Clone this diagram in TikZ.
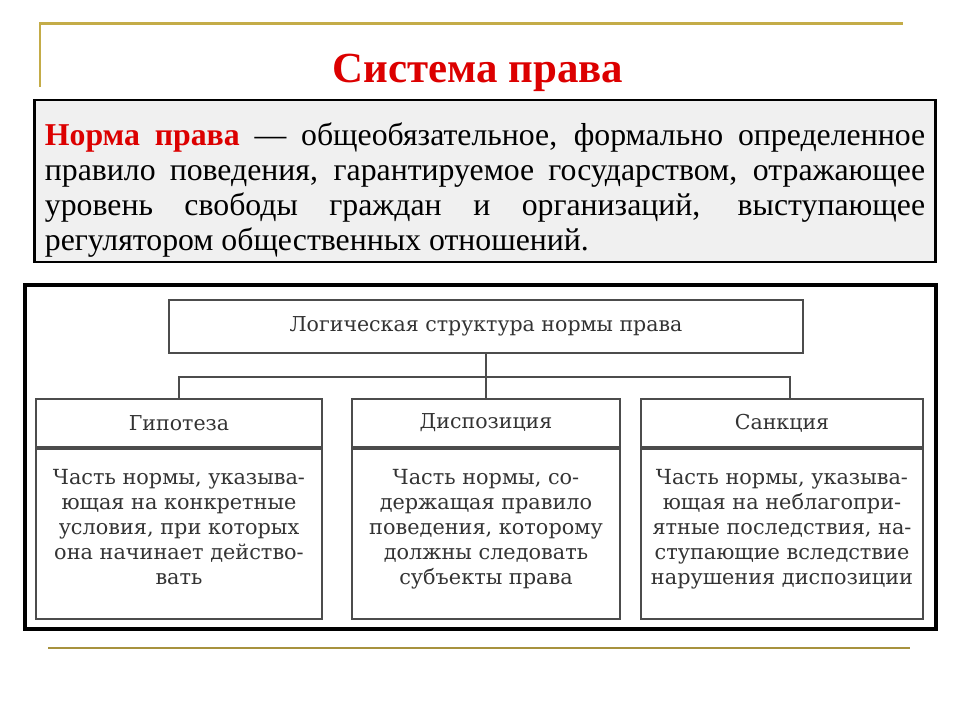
\documentclass[tikz,border=0pt]{standalone}
\usepackage{fontspec}
\setmainfont{Liberation Serif}
\newfontfamily\scanfont{DejaVu Serif}
\usetikzlibrary{calc, positioning}

\definecolor{gold}{RGB}{196,172,72}
\definecolor{titlered}{RGB}{220,0,0}
\definecolor{boxgray}{RGB}{240,240,240}

\begin{document}
\begin{tikzpicture}[x=0.025cm, y=0.025cm,
        defbox/.style={rectangle, draw=black, line width=2pt, fill=boxgray,
                       minimum width=22.5cm, minimum height=4.05cm,
                       text width=22cm, align=justify, inner sep=0pt,
                       font=\fontsize{22.6}{25.1}\selectfont},
        frame/.style={draw=black, line width=2.2pt},
        headbox/.style={rectangle, draw=black!70, line width=1.2pt,
                        minimum height=1.2cm, text=black!80,
                        font=\scanfont\fontsize{14.6}{17.8}\selectfont},
        bodybox/.style={rectangle, draw=black!70, line width=1.2pt,
                        minimum height=4.25cm, align=center, text=black!80,
                        font=\scanfont\fontsize{14.8}{17.8}\selectfont},
        link/.style={draw=black!70, line width=1.2pt},
    ]
    \useasboundingbox (0,0) rectangle (960,720);

    % ====== рамка слайда ======
    \draw[gold, line width=2pt] (40,633) -- (40,696.5) -- (903,696.5);
    \draw[gold!85!black, line width=2pt] (48,72) -- (910,72);

    % ====== заголовок и определение ======
    \node[font=\fontsize{30.5}{36}\selectfont\bfseries, text=titlered] (title) at (478,647) {Система права};
    \node[defbox] (def) at (485,539) {\rule{0pt}{29pt}{\color{titlered}\textbf{Норма права}} — общеобязательное, формально определенное\linebreak
        правило поведения, гарантируемое государством, отражающее\linebreak
        уровень свободы граждан и организаций, выступающее\linebreak
        регулятором общественных отношений.};

    % ====== схема ======
    \draw[frame] (25,435) rectangle (936,91);
    \node[headbox, minimum width=15.85cm, minimum height=1.325cm] (lstr) at (486,393.5) {Логическая структура нормы права};

    \node[headbox, minimum width=7.15cm] (hyp) at (179,297) {Гипотеза};
    \node[bodybox, minimum width=7.15cm, below=0pt of hyp] (hypbody)
        {Часть нормы, указыва-\\ющая на конкретные\\условия, при которых\\она начинает действо-\\вать\\[-8pt]};

    \node[headbox, minimum width=6.7cm] (disp) at (486,297) {Диспозиция};
    \node[bodybox, minimum width=6.7cm, below=0pt of disp] (dispbody)
        {Часть нормы, со-\\держащая правило\\поведения, которому\\должны следовать\\субъекты права\\[-8pt]};

    \node[headbox, minimum width=7.05cm] (sanc) at (782,297) {Санкция};
    \node[bodybox, minimum width=7.05cm, below=0pt of sanc] (sancbody)
        {Часть нормы, указыва-\\ющая на неблагопри-\\ятные последствия, на-\\ступающие вследствие\\нарушения диспозиции\\[-8pt]};

    % ====== связи ======
    \coordinate (bar) at (lstr.south |- 0,343);
    \draw[link] (lstr.south) -- (disp.north);
    \draw[link] (hyp.north) |- (bar) -| ([xshift=8*0.025cm]sanc.north);

    \end{tikzpicture}
\end{document}
